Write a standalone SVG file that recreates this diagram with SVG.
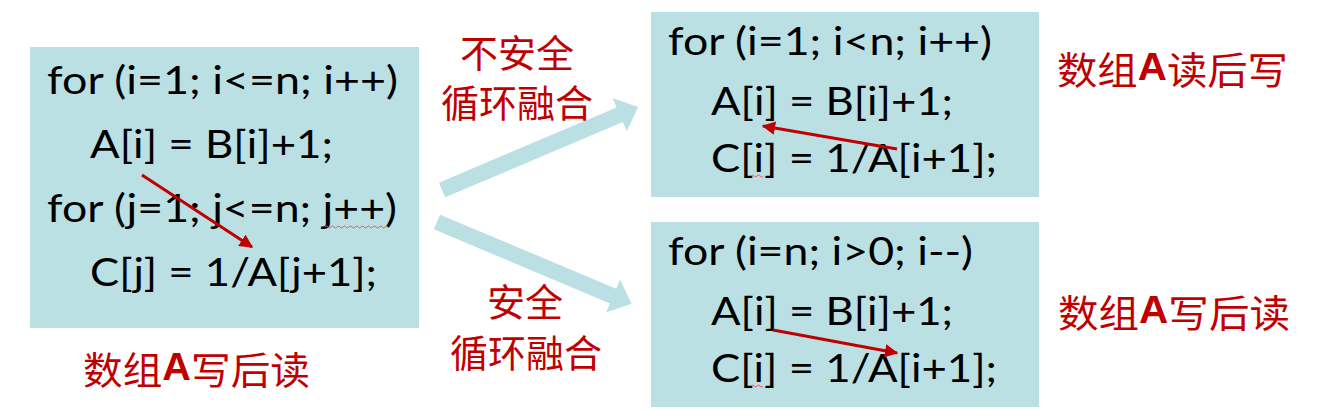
<svg xmlns="http://www.w3.org/2000/svg" width="1318" height="411" viewBox="0 0 1318 411">
<defs>
<style>
.box{fill:#BAE0E4}
.code{font-family:Lato,"Liberation Sans",sans-serif;font-size:39px;fill:#000}
.lbl{font-family:"Noto Sans CJK SC",sans-serif;font-size:38px;fill:#C00000}
.lblA{font-family:"Liberation Sans",sans-serif;font-weight:bold}
.dep{stroke:#C00000;stroke-width:3;fill:none}
.sq{stroke:#E06060;stroke-width:1;fill:none}
.big{fill:#BAE0E4}
</style>
<marker id="ah" viewBox="0 0 10 10" refX="9" refY="5" markerWidth="4.5" markerHeight="4.5" orient="auto" markerUnits="strokeWidth">
<path d="M0,0 L10,5 L0,10 z" fill="#C00000"/>
</marker>
</defs>
<rect width="1318" height="411" fill="#fff"/>

<g id="left-loops">
<rect class="box" x="30" y="47" width="389" height="281"/>
<text class="code" x="47" y="94" textLength="351" lengthAdjust="spacingAndGlyphs">for (i=1; i&lt;=n; i++)</text>
<text class="code" x="90" y="158" textLength="243" lengthAdjust="spacingAndGlyphs">A[i] = B[i]+1;</text>
<text class="code" x="47" y="222" textLength="350" lengthAdjust="spacingAndGlyphs">for (j=1; j&lt;=n; j++)</text>
<text class="code" x="90" y="286" textLength="287" lengthAdjust="spacingAndGlyphs">C[j] = 1/A[j+1];</text>
<path class="sq" d="M325,227 q1.5,-2 3,0 t3,0 t3,0 t3,0 t3,0 t3,0 t3,0 t3,0 t3,0 t3,0 t3,0 t3,0 t3,0 t3,0 t3,0 t3,0 t3,0 t3,0 t3,0 t3,0 t3,0"/>
</g>

<g id="unsafe-fused">
<rect class="box" x="651" y="12" width="388" height="185"/>
<text class="code" x="668" y="55" textLength="324" lengthAdjust="spacingAndGlyphs">for (i=1; i&lt;n; i++)</text>
<text class="code" x="711" y="115" textLength="242" lengthAdjust="spacingAndGlyphs">A[i] = B[i]+1;</text>
<text class="code" x="711" y="172" textLength="286" lengthAdjust="spacingAndGlyphs">C[i] = 1/A[i+1];</text>
<path class="sq" d="M751,176 q1.5,-2 3,0 t3,0 t3,0 t3,0"/>
</g>

<g id="safe-fused">
<rect class="box" x="651" y="222" width="388" height="185"/>
<text class="code" x="668" y="265" textLength="305" lengthAdjust="spacingAndGlyphs">for (i=n; i&gt;0; i--)</text>
<text class="code" x="711" y="325" textLength="242" lengthAdjust="spacingAndGlyphs">A[i] = B[i]+1;</text>
<text class="code" x="711" y="382" textLength="286" lengthAdjust="spacingAndGlyphs">C[i] = 1/A[i+1];</text>
<path class="sq" d="M751,386 q1.5,-2 3,0 t3,0 t3,0 t3,0"/>
</g>

<g id="connectors">
<polygon class="big" transform="translate(442,190) rotate(-22.95)" points="0,-8 193,-8 193,-18 213,0 193,18 193,8 0,8"/>
<polygon class="big" transform="translate(437,222) rotate(22.8)" points="0,-8 191,-8 191,-18 211,0 191,18 191,8 0,8"/>
<line class="dep" x1="142" y1="175" x2="252" y2="247" marker-end="url(#ah)"/>
<line class="dep" x1="897" y1="149" x2="763" y2="126" marker-end="url(#ah)"/>
<line class="dep" x1="773" y1="330" x2="897" y2="353" marker-end="url(#ah)"/>
</g>

<g id="labels">
<text class="lbl" x="517" y="50" text-anchor="middle" dominant-baseline="central">不安全</text>
<text class="lbl" x="517" y="100" text-anchor="middle" dominant-baseline="central">循环融合</text>
<text class="lbl" x="525" y="299" text-anchor="middle" dominant-baseline="central">安全</text>
<text class="lbl" x="526" y="350" text-anchor="middle" dominant-baseline="central">循环融合</text>
<text class="lbl" x="1057" y="67" dominant-baseline="central" textLength="231" lengthAdjust="spacingAndGlyphs">数组<tspan class="lblA">A</tspan>读后写</text>
<text class="lbl" x="1058" y="310" dominant-baseline="central" textLength="232" lengthAdjust="spacingAndGlyphs">数组<tspan class="lblA">A</tspan>写后读</text>
<text class="lbl" x="83" y="367" dominant-baseline="central" textLength="227" lengthAdjust="spacingAndGlyphs">数组<tspan class="lblA">A</tspan>写后读</text>
</g>
</svg>
